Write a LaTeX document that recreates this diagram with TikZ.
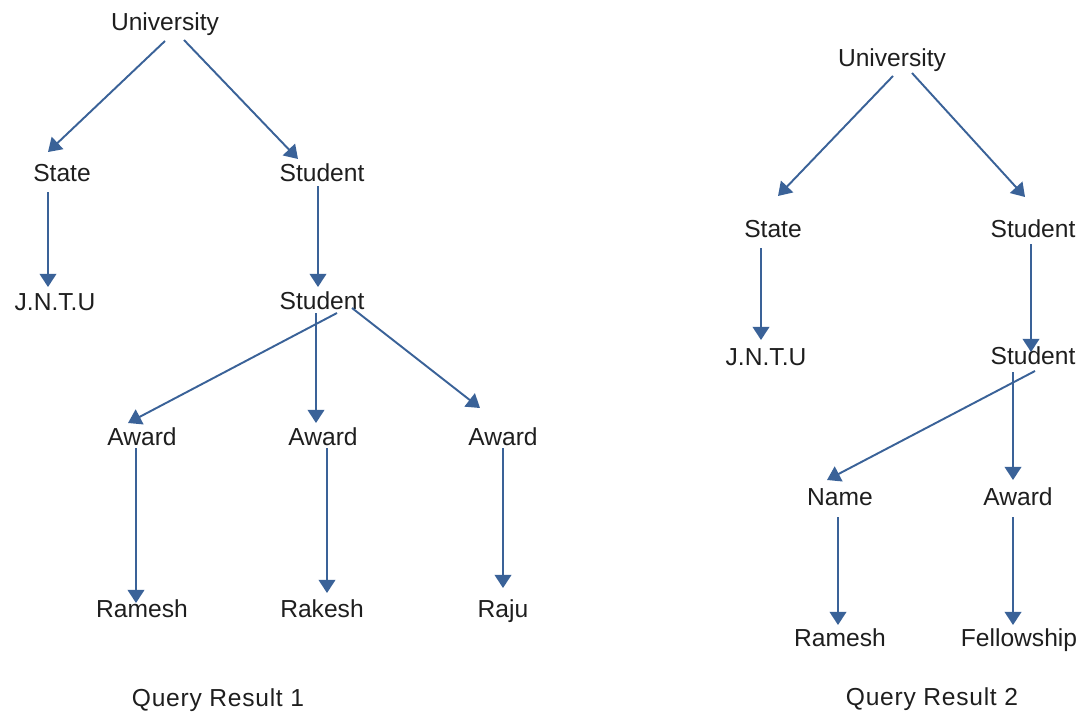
\documentclass[tikz,border=0pt]{standalone}
\usepackage{fontspec}
\setmainfont{Liberation Sans}
\usetikzlibrary{arrows.meta,calc}
\definecolor{edgeblue}{RGB}{58,98,152}
\definecolor{labelgray}{RGB}{30,30,30}
\tikzset{
  lbl/.style={text=labelgray,font=\fontsize{14}{16}\selectfont,inner sep=0pt,text height=12pt,text depth=3pt},
  caption/.style={text=labelgray,font=\fontsize{14}{16}\selectfont\addfontfeatures{LetterSpace=3},inner sep=0pt,text height=10pt,text depth=3pt},
  link/.style={draw=edgeblue,line width=1.1pt,-{Triangle[length=7.5pt,width=9.5pt]}}
}
\begin{document}
\begin{tikzpicture}[x=0.02cm,y=-0.02cm,every node/.style={lbl}]
      \useasboundingbox (0,0) rectangle (1081,713);
      % query result 1
      \draw
        (165,23) node (u1){University}
        (62,174) node (st1){State}
        (322,174) node (sd1){Student}
        (55,303) node (j1){J.N.T.U}
        (322,302) node (sd2){Student}
        (142,438) node (a1){Award}
        (323,438) node (a2){Award}
        (503,438) node (a3){Award}
        (142,610) node (r1){Ramesh}
        (322,610) node (r2){Rakesh}
        (503,610) node (r3){Raju}
        (218,700) node[caption] (q1){Query Result 1};
      % query result 2
      \draw
        (892,59) node (u2){University}
        (773,230) node (st2){State}
        (1033,230) node (sd3){Student}
        (766,358) node (j2){J.N.T.U}
        (1033,357) node (sd4){Student}
        (840,498) node (n1){Name}
        (1018,498) node (a4){Award}
        (840,639) node (r4){Ramesh}
        (1019,639) node (f1){Fellowship}
        (932,699) node[caption] (q2){Query Result 2};
      \begin{scope}[link]
        \draw ($(u1)+(0,18)$) to ($(st1)+(-14,-22)$);
        \draw ($(u1)+(19,17)$) to ($(sd1)+(-24,-15)$);
        \draw ($(st1)+(-14,18)$) to ($(j1)+(-7,-16)$);
        \draw ($(sd1)+(-4,12)$) to ($(sd2)+(-4,-15)$);
        \draw ($(sd2)+(15,11)$) to ($(a1)+(-14,-15)$);
        \draw ($(sd2)+(-6,11)$) to ($(a2)+(-7,-15)$);
        \draw ($(sd2)+(30,6)$) to ($(a3)+(-23,-30)$);
        \draw ($(a1)+(-6,10)$) to ($(r1)+(-6,-7)$);
        \draw ($(a2)+(4,10)$) to ($(r2)+(5,-17)$);
        \draw ($(a3)+(0,10)$) to ($(r3)+(0,-22)$);
        \draw ($(u2)+(1,17)$) to ($(st2)+(5,-34)$);
        \draw ($(u2)+(20,14)$) to ($(sd3)+(-8,-33)$);
        \draw ($(st2)+(-12,18)$) to ($(j2)+(-5,-18)$);
        \draw ($(sd3)+(-2,14)$) to ($(sd4)+(-2,-5)$);
        \draw ($(sd4)+(2,14)$) to ($(n1)+(-13,-18)$);
        \draw ($(sd4)+(-20,15)$) to ($(a4)+(-5,-18)$);
        \draw ($(n1)+(-2,19)$) to ($(r4)+(-2,-14)$);
        \draw ($(a4)+(-5,19)$) to ($(f1)+(-6,-14)$);
      \end{scope}
    \end{tikzpicture}
\end{document}
